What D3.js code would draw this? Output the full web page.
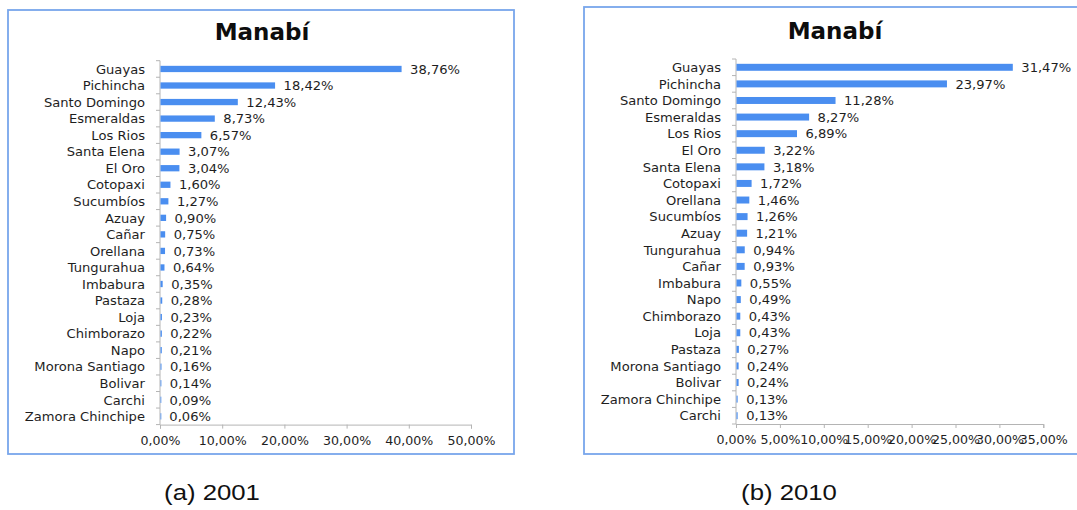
<!DOCTYPE html>
<html>
<head>
<meta charset="utf-8">
<script src="https://cdn.jsdelivr.net/npm/d3@7"></script>
<style>
  html, body { margin: 0; padding: 0; background: #fff; }
  svg { display: block; }
  .cat, .val { font-family: "DejaVu Sans", sans-serif; font-size: 13.1px; fill: #1e1e1e; }
  .tick-lbl { font-family: "DejaVu Sans", sans-serif; font-size: 12.6px; fill: #1e1e1e; }
  .title { font-family: "DejaVu Sans", sans-serif; font-weight: bold; font-size: 23px; fill: #0d0d0d; }
  .caption { font-family: "Liberation Sans", Arial, sans-serif; font-size: 22px; fill: #111; }
</style>
</head>
<body>
<svg id="chart" width="1077" height="510"></svg>
<script>
// Provincias de destino de los emigrantes de Manabí (% del total)
const titleText = "Manabí";

const provinces2001 = ["Guayas", "Pichincha", "Santo Domingo", "Esmeraldas", "Los Rios", "Santa Elena",
  "El Oro", "Cotopaxi", "Sucumbíos", "Azuay", "Cañar", "Orellana", "Tungurahua", "Imbabura",
  "Pastaza", "Loja", "Chimborazo", "Napo", "Morona Santiago", "Bolivar", "Carchi", "Zamora Chinchipe"];
const values2001 = [38.76, 18.42, 12.43, 8.73, 6.57, 3.07, 3.04, 1.60, 1.27, 0.90, 0.75, 0.73, 0.64,
  0.35, 0.28, 0.23, 0.22, 0.21, 0.16, 0.14, 0.09, 0.06];
const ticks2001 = [0, 10, 20, 30, 40, 50];

const provinces2010 = ["Guayas", "Pichincha", "Santo Domingo", "Esmeraldas", "Los Rios", "El Oro",
  "Santa Elena", "Cotopaxi", "Orellana", "Sucumbíos", "Azuay", "Tungurahua", "Cañar", "Imbabura",
  "Napo", "Chimborazo", "Loja", "Pastaza", "Morona Santiago", "Bolivar", "Zamora Chinchipe", "Carchi"];
const values2010 = [31.47, 23.97, 11.28, 8.27, 6.89, 3.22, 3.18, 1.72, 1.46, 1.26, 1.21, 0.94, 0.93,
  0.55, 0.49, 0.43, 0.43, 0.27, 0.24, 0.24, 0.13, 0.13];
const ticks2010 = [0, 5, 10, 15, 20, 25, 30, 35];

const captions = ["(a) 2001", "(b) 2010"];

// Spanish-style decimal comma
const esLocale = d3.formatLocale({ decimal: ",", thousands: ".", grouping: [3], currency: ["", "€"] });
const fmt = v => esLocale.format(".2f")(v) + "%";

const svg = d3.select("#chart");
const BAR = "#4a8ef0";
const AXIS = "#b4b4b4";
const FRAME = "#78a6ec";

function drawPanel(cfg) {
  const g = svg.append("g");

  // chart frame
  g.append("rect")
    .attr("x", cfg.frame[0]).attr("y", cfg.frame[1])
    .attr("width", cfg.frame[2]).attr("height", cfg.frame[3])
    .attr("fill", "#fff").attr("stroke", FRAME).attr("stroke-width", 1.8);

  g.append("text").attr("class", "title")
    .attr("x", cfg.titleX).attr("y", cfg.titleY)
    .attr("text-anchor", "middle").text(titleText);

  const x = d3.scaleLinear().domain(cfg.domain).range(cfg.xRange);
  const y = d3.scaleBand().domain(cfg.cats).range(cfg.yRange).paddingInner(cfg.pad).paddingOuter(cfg.pad / 2);

  // category axis line + ticks at band boundaries
  g.append("line")
    .attr("x1", x(0)).attr("x2", x(0))
    .attr("y1", cfg.yRange[0]).attr("y2", cfg.yRange[1])
    .attr("stroke", AXIS).attr("stroke-width", 1);
  const step = y.step();
  d3.range(cfg.cats.length + 1).forEach(i => {
    const yy = cfg.yRange[0] + i * step;
    g.append("line")
      .attr("x1", x(0) - 4).attr("x2", x(0))
      .attr("y1", yy).attr("y2", yy)
      .attr("stroke", AXIS).attr("stroke-width", 1);
  });

  // value axis
  const xAxis = d3.axisBottom(x).tickValues(cfg.ticks).tickSize(4).tickPadding(7).tickFormat(fmt);
  const ax = g.append("g").attr("transform", `translate(0,${cfg.yRange[1]})`).call(xAxis);
  ax.select(".domain").attr("stroke", AXIS);
  ax.selectAll(".tick line").attr("stroke", AXIS);
  ax.selectAll(".tick text").attr("class", "tick-lbl").attr("font-family", null).attr("font-size", null).attr("fill", null);

  // bars
  const rows = cfg.cats.map((c, i) => ({ c, v: cfg.vals[i] }));
  g.selectAll("rect.bar").data(rows).enter().append("rect")
    .attr("class", "bar")
    .attr("x", x(0) + 0.5)
    .attr("y", d => y(d.c))
    .attr("width", d => Math.max(0.8, x(d.v) - x(0)))
    .attr("height", y.bandwidth())
    .attr("fill", BAR);

  // category labels
  g.selectAll("text.cat").data(rows).enter().append("text")
    .attr("class", "cat")
    .attr("x", x(0) - 15)
    .attr("y", d => y(d.c) + y.bandwidth() / 2)
    .attr("dy", "0.36em")
    .attr("text-anchor", "end")
    .text(d => d.c);

  // value labels
  g.selectAll("text.val").data(rows).enter().append("text")
    .attr("class", "val")
    .attr("x", d => x(d.v) + 9)
    .attr("y", d => y(d.c) + y.bandwidth() / 2)
    .attr("dy", "0.36em")
    .text(d => fmt(d.v));

  // caption below the frame
  svg.append("text").attr("class", "caption")
    .attr("transform", `translate(${cfg.capX},${500}) scale(1.17,1)`)
    .attr("text-anchor", "middle")
    .text(cfg.caption);
}

drawPanel({
  frame: [8, 10, 506, 444],
  titleX: 262, titleY: 40,
  domain: [0, 50], xRange: [160, 471], ticks: ticks2001,
  cats: provinces2001, vals: values2001,
  yRange: [60.7, 424.6], pad: 0.62,
  capX: 212, caption: captions[0]
});

drawPanel({
  frame: [584, 7, 520, 447],
  titleX: 835, titleY: 38.5,
  domain: [0, 35], xRange: [736, 1043.3], ticks: ticks2010,
  cats: provinces2010, vals: values2010,
  yRange: [59, 424], pad: 0.58,
  capX: 789, caption: captions[1]
});
</script>
</body>
</html>
